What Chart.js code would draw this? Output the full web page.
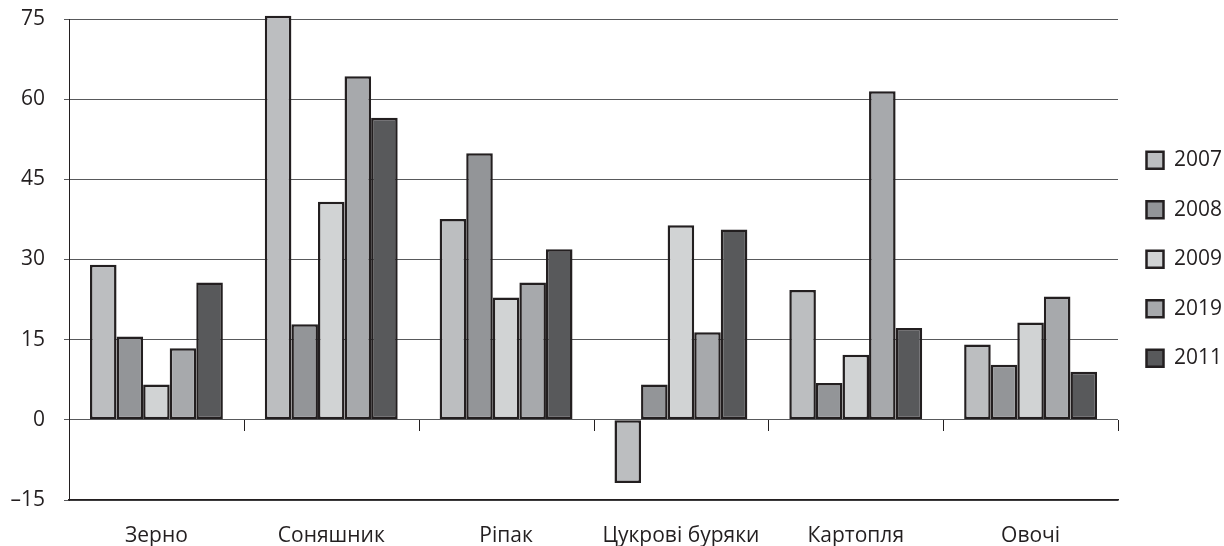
<!DOCTYPE html>
<html lang="uk">
<head>
<meta charset="utf-8">
<title>Chart</title>
<script src="https://cdn.jsdelivr.net/npm/chart.js"></script>
<style>
  html, body { margin: 0; padding: 0; background: #fff; }
  #chart { display: block; }
</style>
</head>
<body>
<canvas id="chart" width="1224" height="546"></canvas>
<script>
  // категорії та значення
  const categories = ['Зерно', 'Соняшник', 'Ріпак', 'Цукрові буряки', 'Картопля', 'Овочі'];
  const years = ['2007', '2008', '2009', '2019', '2011'];
  const v2007 = [29, 75.6, 37.6, -11.8, 24.3, 14.1];
  const v2008 = [15.6, 17.9, 49.9, 6.6, 6.9, 10.3];
  const v2009 = [6.6, 40.8, 22.9, 36.4, 12.2, 18.2];
  const v2019 = [13.4, 64.3, 25.7, 16.4, 61.5, 23.1];
  const v2011 = [25.7, 56.5, 31.9, 35.6, 17.2, 9.0];
  const yTicks = [-15, 0, 15, 30, 45, 60, 75];

  const series = [v2007, v2008, v2009, v2019, v2011];
  const fills = ['#bcbec0', '#939598', '#d1d3d4', '#a7a9ac', '#58595b'];
  const ink = '#231f20';
  const font = "'Open Sans', 'Noto Sans', sans-serif";

  // маленькі риски на нульовій лінії між групами
  const zeroTicks = {
    id: 'zeroTicks',
    afterDatasetsDraw(chart) {
      const { ctx, scales: { x, y } } = chart;
      const y0 = Math.round(y.getPixelForValue(0));
      const step = (x.right - x.left) / categories.length;
      ctx.save();
      ctx.strokeStyle = ink;
      ctx.lineWidth = 1;
      for (let i = 1; i <= categories.length; i++) {
        const px = Math.round(x.left + i * step) + 0.5;
        ctx.beginPath();
        ctx.moveTo(px, y0);
        ctx.lineTo(px, y0 + 11);
        ctx.stroke();
      }
      ctx.restore();
    }
  };

  new Chart(document.getElementById('chart'), {
    type: 'bar',
    data: {
      labels: categories,
      datasets: years.map((yr, i) => ({
        label: yr,
        data: series[i],
        backgroundColor: fills[i],
        borderColor: ink,
        borderWidth: 2.5,
        borderSkipped: false,
        clip: false
      }))
    },
    options: {
      responsive: false,
      animation: false,
      layout: { padding: { top: 19, bottom: 0, left: 0, right: 0 } },
      datasets: { bar: { categoryPercentage: 0.76, barPercentage: 1.0 } },
      plugins: {
        tooltip: { enabled: false },
        legend: {
          position: 'right',
          align: 'start',
          maxWidth: 106,
          title: { display: true, text: '', font: { size: 1 }, padding: { top: 101, bottom: 0 } },
          labels: {
            boxWidth: 17,
            boxHeight: 17,
            padding: 28.5,
            color: ink,
            font: { family: font, size: 21 }
          }
        }
      },
      scales: {
        x: {
          grid: { display: false },
          border: { display: true, color: ink, width: 1.5 },
          ticks: { color: ink, padding: 15, font: { family: font, size: 21 } },
          afterFit: (s) => { s.height = 46; }
        },
        y: {
          min: -15,
          max: 75,
          afterBuildTicks: (s) => { s.ticks = yTicks.map(v => ({ value: v })); },
          grid: { color: '#58595b', lineWidth: 1, tickLength: 5 },
          border: { display: true, color: ink, width: 1 },
          ticks: {
            color: ink,
            padding: 19,
            font: { family: font, size: 21 },
            callback: (v) => v < 0 ? '\u2013' + Math.abs(v) : String(v)
          },
          afterFit: (s) => {
            s.width = 69;
            s.paddingTop = 0;
            s.paddingBottom = 0;
          }
        }
      }
    },
    plugins: [zeroTicks]
  });
</script>
</body>
</html>
